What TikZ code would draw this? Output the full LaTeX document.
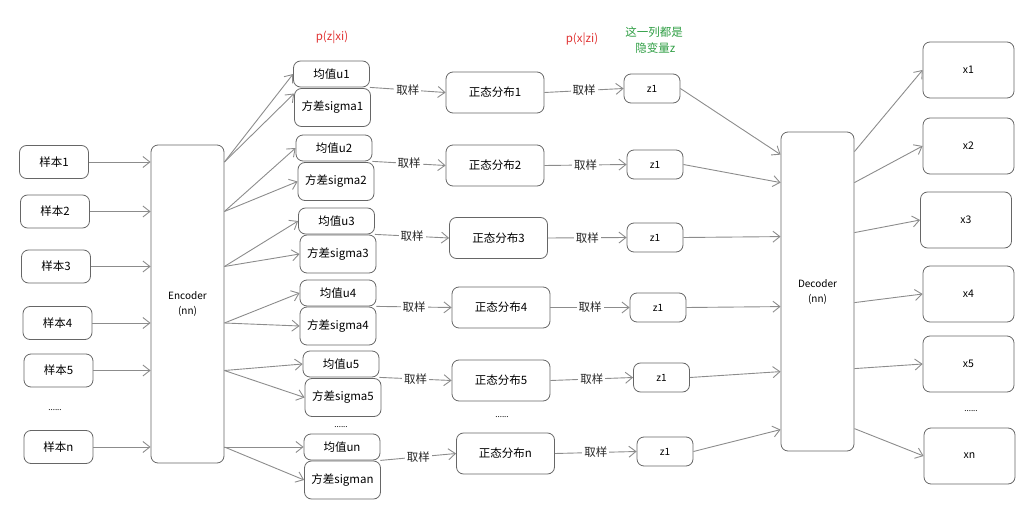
\documentclass[tikz,border=0pt]{standalone}
\usepackage{fontspec}
\newfontfamily\cjk{Noto Sans CJK SC}
\usetikzlibrary{arrows.meta}
\definecolor{redtxt}{RGB}{224,49,49}
\definecolor{greentxt}{RGB}{47,158,68}

\begin{document}
\begin{tikzpicture}[x=1pt,y=-1pt,>={Straight Barb[length=7pt,width=11pt]},line width=0.9pt,font=\cjk\fontsize{11.5pt}{14pt}\selectfont,
  box/.style={draw=black!60,line width=0.8pt,rounded corners=7pt,inner sep=0pt,align=center},
  sbox/.style={box,minimum width=69pt,minimum height=33pt},
  ubox/.style={box,minimum width=76pt,minimum height=26pt},
  vbox/.style={box,minimum width=76pt,minimum height=38pt},
  nbox/.style={box,minimum width=98pt,minimum height=41pt},
  zbox/.style={box,minimum width=56pt,minimum height=29pt,font=\cjk\fontsize{10pt}{12pt}\selectfont},
  xbox/.style={box,minimum width=91pt,minimum height=56pt,font=\cjk\fontsize{10.5pt}{12pt}\selectfont},
  link/.style={->,draw=black!45},
  take/.style={fill=white,inner sep=2pt,text=black!85},
  dots/.style={font=\cjk\fontsize{8pt}{10pt}\selectfont}]
  \useasboundingbox (0,0) rectangle (1036,513);
  \node[text=redtxt] (pz) at (332,37) {p(z|xi)};
  \node[text=redtxt] (px) at (582,39) {p(x|zi)};
  \node[text=greentxt,align=center,font=\cjk\fontsize{11.5pt}{16pt}\selectfont] (hint) at (654,40) {这一列都是\\\ 隐变量z};
  \node[sbox] (s1) at (54,162) {样本1};
  \node[sbox] (s2) at (55,211.5) {样本2};
  \node[sbox] (s3) at (56,266.5) {样本3};
  \node[sbox] (s4) at (57.5,323) {样本4};
  \node[sbox] (s5) at (58.5,370.5) {样本5};
  \node[dots] (sd) at (55,410) {......};
  \node[sbox] (sn) at (58.5,447) {样本n};
  \node[box,minimum width=73pt,minimum height=318pt,font=\cjk\fontsize{10pt}{15pt}\selectfont] (enc) at (187.5,304) {Encoder\\(nn)};
  \node[ubox] (u1) at (331.5,74) {均值u1};
  \node[vbox] (v1) at (332.5,107.5) {方差sigma1};
  \node[ubox] (u2) at (334,148) {均值u2};
  \node[vbox] (v2) at (336,181.5) {方差sigma2};
  \node[ubox] (u3) at (336.5,221) {均值u3};
  \node[vbox] (v3) at (338,254) {方差sigma3};
  \node[ubox] (u4) at (338,293) {均值u4};
  \node[vbox] (v4) at (338,326) {方差sigma4};
  \node[ubox] (u5) at (341,364) {均值u5};
  \node[vbox] (v5) at (343,397.5) {方差sigma5};
  \node[dots] (ud) at (341,427) {......};
  \node[ubox] (un) at (342,447) {均值un};
  \node[vbox] (vn) at (342.5,480) {方差sigman};
  \node[nbox] (n1) at (495,92.5) {正态分布1};
  \node[nbox] (n2) at (495,165.5) {正态分布2};
  \node[nbox] (n3) at (498.5,238) {正态分布3};
  \node[nbox] (n4) at (501,307.5) {正态分布4};
  \node[nbox] (n5) at (501,380.5) {正态分布5};
  \node[dots] (nd) at (502,417) {......};
  \node[nbox] (nn) at (505.5,453.5) {正态分布n};
  \node[zbox] (z1) at (652,88.5) {z1};
  \node[zbox] (z2) at (655,164.5) {z1};
  \node[zbox] (z3) at (655,237.5) {z1};
  \node[zbox] (z4) at (658,307.5) {z1};
  \node[zbox] (z5) at (661.5,377.5) {z1};
  \node[zbox] (zn) at (665,451.5) {z1};
  \node[box,minimum width=73pt,minimum height=319pt,font=\cjk\fontsize{10pt}{15pt}\selectfont] (dec) at (817.5,291.5) {Decoder\\(nn)};
  \node[xbox] (x1) at (968.5,70) {x1};
  \node[xbox] (x2) at (968.5,146) {x2};
  \node[xbox] (x3) at (966,220) {x3};
  \node[xbox] (x4) at (968.5,294) {x4};
  \node[xbox] (x5) at (968.5,364) {x5};
  \node[dots] (xd) at (971,411) {......};
  \node[xbox] (xn) at (969.5,456) {xn};
  \draw[link] (s1) -- (enc.west |- s1);
  \draw[link] (s2) -- (enc.west |- s2);
  \draw[link] (s3) -- (enc.west |- s3);
  \draw[link] (s4) -- (enc.west |- s4);
  \draw[link] (s5) -- (enc.west |- s5);
  \draw[link] (sn) -- (enc.west |- sn);
  \draw[link] (enc.east |- s1) -- (u1.west);
  \draw[link] (enc.east |- s1) -- (v1.160);
  \draw[link] (enc.east |- s2) -- (u2.west);
  \draw[link] (enc.east |- s2) -- (v2.west);
  \draw[link] (enc.east |- s3) -- (u3.west);
  \draw[link] (enc.east |- s3) -- (v3.west);
  \draw[link] (enc.east |- s4) -- (u4.west);
  \draw[link] (enc.east |- s4) -- (v4.west);
  \draw[link] (enc.east |- s5) -- (u5.west);
  \draw[link] (enc.east |- s5) -- (v5.west);
  \draw[link] (enc.east |- un) -- (un.west);
  \draw[link] (enc.east |- sn) -- (vn.west);
  \draw[link] (u1.south east) -- (n1.west) node[midway,take] {取样};
  \draw[link] (u2.south east) -- (n2.west) node[midway,take] {取样};
  \draw[link] (u3.south east) -- (n3.west) node[midway,take] {取样};
  \draw[link] (u4.south east) -- (n4.west) node[midway,take] {取样};
  \draw[link] (u5.south east) -- (n5.west) node[midway,take] {取样};
  \draw[link] (un.south east) -- (nn.west) node[midway,take] {取样};
  \draw[link] (n1.east) -- (z1.west) node[midway,take] {取样};
  \draw[link] (n2.east) -- (z2.west) node[midway,take] {取样};
  \draw[link] (n3.east) -- (z3.west) node[midway,take] {取样};
  \draw[link] (n4.east) -- (z4.west) node[midway,take] {取样};
  \draw[link] (n5.east) -- (z5.west) node[midway,take] {取样};
  \draw[link] (nn.east) -- (zn.west) node[midway,take] {取样};
  \draw[link] (z1.east) -- ([yshift=-23pt]dec.north west);
  \draw[link] (z2.east) -- ([yshift=-51pt]dec.north west);
  \draw[link] (z3.east) -- ([yshift=-105pt]dec.north west);
  \draw[link] (z4.east) -- ([yshift=-175pt]dec.north west);
  \draw[link] (z5.east) -- ([yshift=-240pt]dec.north west);
  \draw[link] (zn.east) -- ([yshift=-298pt]dec.north west);
  \draw[link] ([yshift=-20pt]dec.north east) -- (x1.west);
  \draw[link] ([yshift=-51pt]dec.north east) -- (x2.west);
  \draw[link] ([yshift=-101pt]dec.north east) -- (x3.west);
  \draw[link] ([yshift=-171pt]dec.north east) -- (x4.west);
  \draw[link] ([yshift=-237pt]dec.north east) -- (x5.west);
  \draw[link] ([yshift=-297pt]dec.north east) -- (xn.west);
\end{tikzpicture}
\end{document}
